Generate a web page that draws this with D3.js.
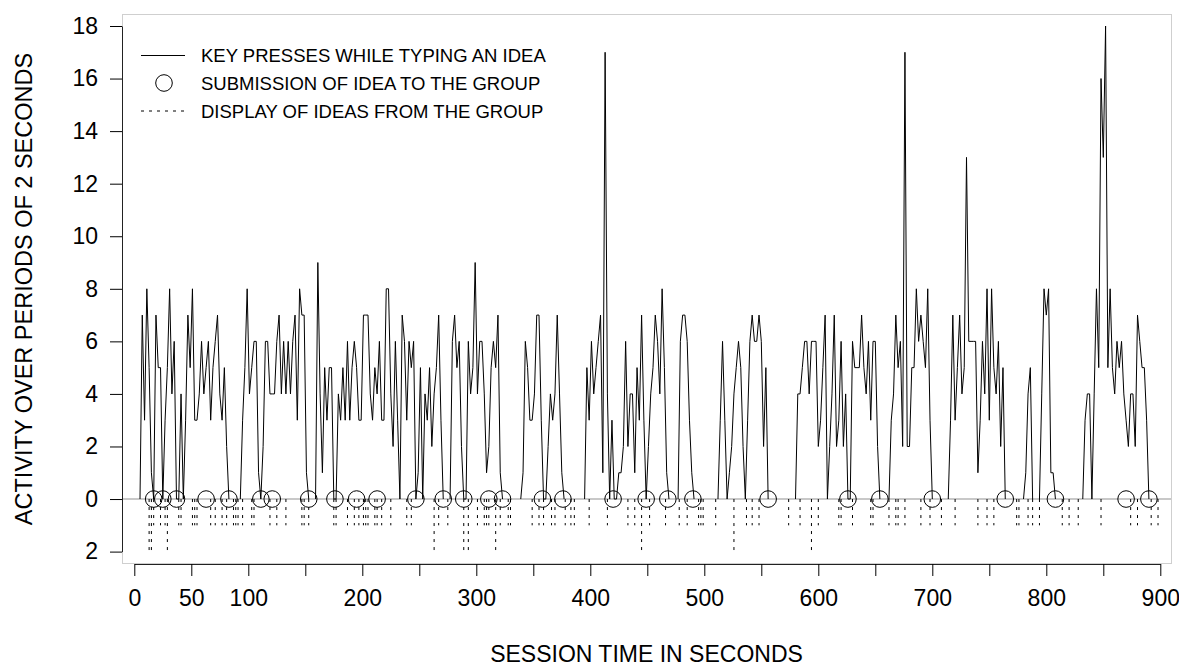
<!DOCTYPE html>
<html>
<head>
<meta charset="utf-8">
<script src="https://cdn.jsdelivr.net/npm/d3@7"></script>
<style>
  html, body { margin: 0; padding: 0; background: #fff; }
  svg { display: block; font-family: "Liberation Sans", Arial, Helvetica, sans-serif; }
</style>
</head>
<body>
<svg id="chart" width="1179" height="668"></svg>
<script>
// key presses counted over periods of 2 seconds, one run per typing episode
const period = 2;
const keyPressStart = [5, 93, 159, 277, 339, 395, 477, 512, 580, 662, 714, 780, 794, 832];
const keyPressCounts = [
    [0,7,3,8,5,1,0,7,5,5,0,3,5,8,4,6,0,0,4,0,3,7,5,8,3,3,4,6,4,5,6,3,5,6,7,4,3,5,2,0],
    [0,3,5,8,4,5,6,6,1,0,2,6,6,4,4,4,6,7,4,6,4,6,4,6,7,3,8,7,7,1,0],
    [0,9,4,1,5,3,5,5,0,0,4,3,5,3,6,3,5,6,5,3,3,7,7,7,4,3,5,4,6,3,3,8,8,4,2,6,3,0,7,6,3,6,5,6,0,1,5,0,4,3,5,2,4,5,7,3,0],
    [0,6,7,5,6,2,0,0,6,4,5,9,4,6,6,4,1,2,5,6,5,7,1,0],
    [0,1,6,5,3,3,4,7,7,3,0,0,2,4,3,4,7,4,1,0],
    [0,5,3,6,4,5,6,7,1,17,4,0,3,0,0,1,1,2,6,2,4,4,1,5,3,7,3,0,2,4,5,7,6,4,8,5,1,0],
    [0,6,7,7,6,3,1,0],
    [0,3,6,3,0,1,2,4,5,6,5,2,0,3,6,7,6,6,7,6,2,5,0],
    [0,4,4,5,6,6,4,6,6,6,2,3,5,7,0,2,4,7,2,3,6,2,4,0,0,6,5,5,5,7,5,4,6,3,6,6,2,0],
    [0,3,4,7,5,6,2,17,2,2,5,5,8,6,7,6,5,8,3,0],
    [0,3,7,3,5,7,4,5,13,6,6,6,6,1,3,6,4,8,3,8,5,4,6,2,5,0],
    [0,1,4,5,0],
    [0,4,8,7,8,1,1,0],
    [0,3,4,4,0,4,8,5,16,13,18,5,8,5,4,6,5,6,4,3,2,4,4,2,7,6,5,5,3,0]
];

// seconds at which an idea was sent to the group
const submissionTimes = [17, 25, 37, 63, 83, 111, 121, 153, 176, 195, 213, 247, 271, 289, 311,
    323, 358, 376, 420, 449, 468, 490, 556, 626, 654, 700, 764, 808, 870, 890];

// seconds at which ideas from the group were shown (one idea / two ideas)
const displayOne = [17, 23, 27, 39, 41, 51, 53, 55, 67, 71, 77, 81, 87, 89, 91, 95, 103, 105, 119,
    125, 133, 147, 149, 153, 175, 177, 187, 193, 197, 201, 203, 205, 211, 213, 217, 225, 239, 243,
    267, 275, 301, 307, 309, 311, 321, 328, 330, 349, 355, 359, 366, 369, 378, 383, 386, 399, 415,
    433, 439, 452, 466, 478, 485, 495, 497, 499, 510, 537, 542, 548, 574, 584, 600, 618, 620, 630,
    646, 648, 662, 668, 670, 676, 690, 698, 708, 720, 740, 748, 754, 774, 776, 784, 788, 794, 814,
    820, 828, 848, 874, 880, 892, 898];
const displayTwo = [13, 15, 29, 263, 289, 293, 317, 445, 526, 594];

const xTicks = d3.range(0, 901, 50);
const xTickLabels = [0, 50, 100, 200, 300, 400, 500, 600, 700, 800, 900];
const yTicks = [-2, 0, 2, 4, 6, 8, 10, 12, 14, 16, 18];

const legendLabels = [
    "KEY PRESSES WHILE TYPING AN IDEA",
    "SUBMISSION OF IDEA TO THE GROUP",
    "DISPLAY OF IDEAS FROM THE GROUP"
];

const svg = d3.select("#chart");

const x = d3.scaleLinear().domain([0, 900]).range([134.3, 1160.3]);
const y = d3.scaleLinear().domain([-2, 18]).range([551.6, 26]);

const box = { left: 122, right: 1171, top: 14, bottom: 564 };

// light frame round the plotting region
svg.append("rect")
    .attr("x", box.left + 0.5)
    .attr("y", box.top + 0.5)
    .attr("width", box.right - box.left)
    .attr("height", box.bottom - box.top - 1)
    .attr("fill", "none")
    .attr("stroke", "#cfcfcf");

// grey reference line at zero
svg.append("line")
    .attr("x1", box.left)
    .attr("x2", box.right)
    .attr("y1", y(0))
    .attr("y2", y(0))
    .attr("stroke", "#c8c8c8")
    .attr("stroke-width", 2);

// axes
const xAxis = svg.append("g")
    .attr("transform", `translate(0,${box.bottom})`)
    .call(d3.axisBottom(x)
        .tickValues(xTicks)
        .tickSize(12)
        .tickSizeOuter(0)
        .tickPadding(14)
        .tickFormat(d => xTickLabels.includes(d) ? d : ""));

const yAxis = svg.append("g")
    .attr("transform", `translate(${box.left},0)`)
    .call(d3.axisLeft(y)
        .tickValues(yTicks)
        .tickSize(12)
        .tickSizeOuter(0)
        .tickPadding(12)
        .tickFormat(d => Math.abs(d)));

[xAxis, yAxis].forEach(g => {
    g.attr("font-family", null).attr("font-size", null);
    g.selectAll("text").attr("font-size", 23).attr("fill", "#000");
    g.selectAll("line").attr("stroke", "#000");
    g.select(".domain").attr("stroke", "#222");
});

// display of ideas: dotted drops below zero
const dots = svg.append("g")
    .attr("stroke", "#000")
    .attr("stroke-width", 1)
    .attr("stroke-dasharray", "3,5");

dots.selectAll("line.one")
    .data(displayOne)
    .enter().append("line")
    .attr("class", "one")
    .attr("x1", d => x(d)).attr("x2", d => x(d))
    .attr("y1", y(0)).attr("y2", y(-1));

dots.selectAll("line.two")
    .data(displayTwo)
    .enter().append("line")
    .attr("class", "two")
    .attr("x1", d => x(d)).attr("x2", d => x(d))
    .attr("y1", y(0)).attr("y2", y(-2));

// key press activity
const line = d3.line()
    .x(d => x(d.t))
    .y(d => y(d.v));

keyPressCounts.forEach((counts, i) => {
    const pts = counts.map((v, j) => ({ t: keyPressStart[i] + j * period, v: v }));
    svg.append("path")
        .datum(pts)
        .attr("fill", "none")
        .attr("stroke", "#000")
        .attr("stroke-width", 1)
        .attr("stroke-linejoin", "miter")
        .attr("d", line);
});

// submissions
svg.append("g").selectAll("circle")
    .data(submissionTimes)
    .enter().append("circle")
    .attr("cx", d => x(d))
    .attr("cy", y(0))
    .attr("r", 8.3)
    .attr("fill", "none")
    .attr("stroke", "#000")
    .attr("stroke-width", 1);

// legend
const legend = svg.append("g");
const legendY = [55.5, 83, 111];

legend.append("line")
    .attr("x1", 141).attr("x2", 185)
    .attr("y1", legendY[0]).attr("y2", legendY[0])
    .attr("stroke", "#000");

legend.append("circle")
    .attr("cx", 164).attr("cy", legendY[1]).attr("r", 8.3)
    .attr("fill", "none").attr("stroke", "#000");

legend.append("line")
    .attr("x1", 141).attr("x2", 185)
    .attr("y1", legendY[2]).attr("y2", legendY[2])
    .attr("stroke", "#000")
    .attr("stroke-dasharray", "3,5");

legend.selectAll("text")
    .data(legendLabels)
    .enter().append("text")
    .attr("x", 201)
    .attr("y", (d, i) => legendY[i] + 6.5)
    .attr("font-size", 18.5)
    .text(d => d);

// axis titles
svg.append("text")
    .attr("x", (box.left + box.right) / 2)
    .attr("y", 662)
    .attr("text-anchor", "middle")
    .attr("font-size", 23)
    .text("SESSION TIME IN SECONDS");

svg.append("text")
    .attr("transform", `translate(32,${(box.top + box.bottom) / 2}) rotate(-90)`)
    .attr("text-anchor", "middle")
    .attr("font-size", 23.5)
    .text("ACTIVITY OVER PERIODS OF 2 SECONDS");
</script>
</body>
</html>
